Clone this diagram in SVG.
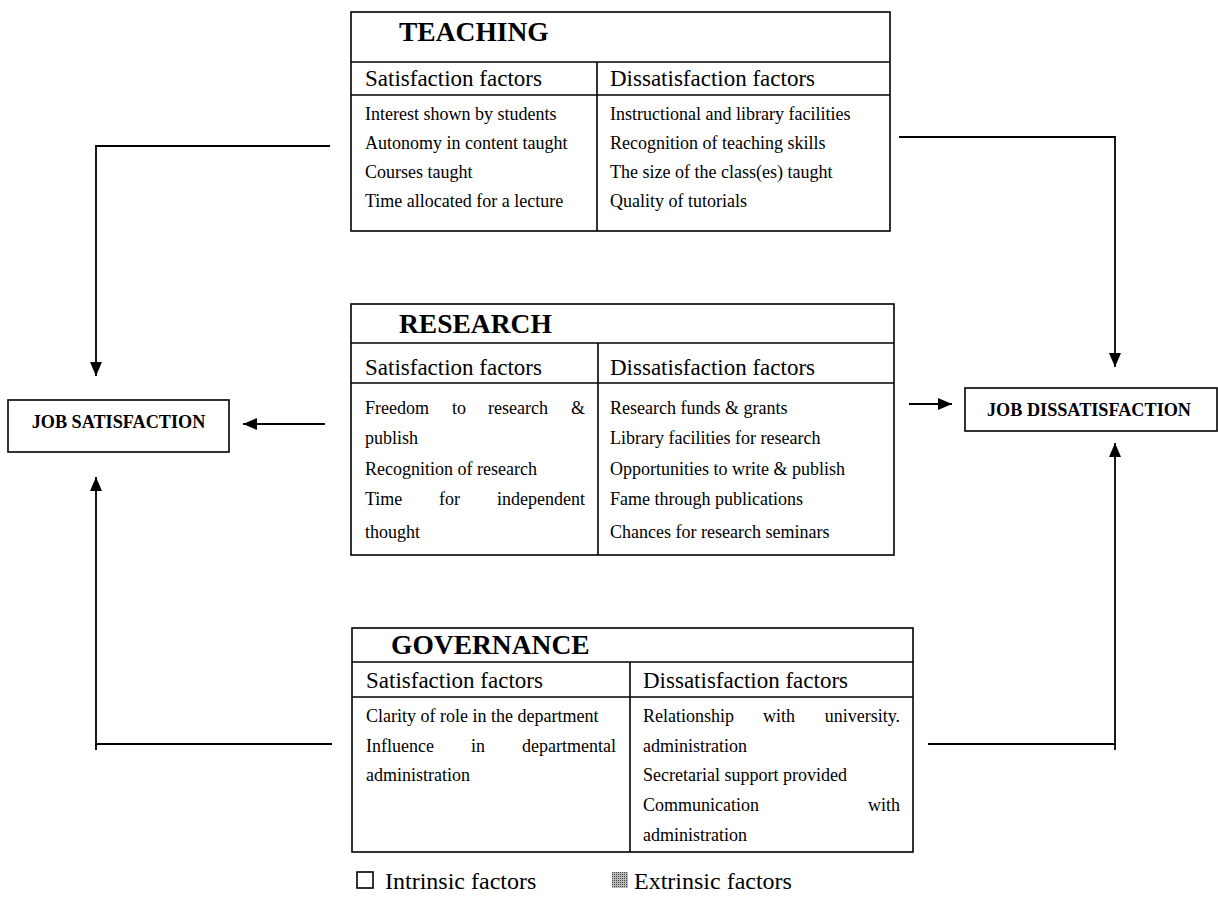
<svg xmlns="http://www.w3.org/2000/svg" width="1218" height="915" viewBox="0 0 1218 915">
<defs>
<style>
.box{fill:#fff;stroke:#000;stroke-width:1.6}
.ln{stroke:#000;stroke-width:1.6;fill:none}
.title{font-family:"Liberation Serif","Times New Roman",serif;font-weight:bold;font-size:27.5px;fill:#000}
.hdr{font-family:"Liberation Serif","Times New Roman",serif;font-size:23px;fill:#000}
.row{font-family:"Liberation Serif","Times New Roman",serif;font-size:18px;fill:#000}
.end{text-anchor:end}
.job{font-family:"Liberation Serif","Times New Roman",serif;font-weight:bold;font-size:18.2px;fill:#000}
.leg{font-family:"Liberation Serif","Times New Roman",serif;font-size:24px;fill:#000}
.con{stroke:#000;stroke-width:1.8;fill:none}
</style>
<marker id="ah" markerWidth="14" markerHeight="12" viewBox="0 0 14 12" refX="14" refY="6" orient="auto" markerUnits="userSpaceOnUse">
<path d="M0,0 L14,6 L0,12 Z" fill="#000"/>
</marker>
<pattern id="hatch" width="2" height="2" patternUnits="userSpaceOnUse">
<rect width="2" height="2" fill="#bbb"/>
<rect width="1" height="1" fill="#444"/>
</pattern>
</defs>
<rect width="1218" height="915" fill="#fff"/>

<g id="teaching">
<rect class="box" x="351" y="12" width="539" height="219"/>
<line class="ln" x1="351" y1="62" x2="890" y2="62"/>
<line class="ln" x1="351" y1="95" x2="890" y2="95"/>
<line class="ln" x1="597" y1="62" x2="597" y2="231"/>
<text class="title" x="399" y="41">TEACHING</text>
<text class="hdr" x="365" y="86">Satisfaction factors</text>
<text class="hdr" x="610" y="86">Dissatisfaction factors</text>
<text class="row" x="365" y="120">Interest shown by students</text>
<text class="row" x="365" y="149">Autonomy in content taught</text>
<text class="row" x="365" y="178">Courses taught</text>
<text class="row" x="365" y="207">Time allocated for a lecture</text>
<text class="row" x="610" y="120">Instructional and library facilities</text>
<text class="row" x="610" y="149">Recognition of teaching skills</text>
<text class="row" x="610" y="178">The size of the class(es) taught</text>
<text class="row" x="610" y="207">Quality of tutorials</text>
</g>

<g id="research">
<rect class="box" x="351" y="304" width="543" height="251"/>
<line class="ln" x1="351" y1="343" x2="894" y2="343"/>
<line class="ln" x1="351" y1="383" x2="894" y2="383"/>
<line class="ln" x1="598" y1="343" x2="598" y2="555"/>
<text class="title" x="399" y="333">RESEARCH</text>
<text class="hdr" x="365" y="375">Satisfaction factors</text>
<text class="hdr" x="610" y="375">Dissatisfaction factors</text>
<text class="row" x="365" y="414">Freedom</text>
<text class="row" x="452" y="414">to</text>
<text class="row" x="488" y="414">research</text>
<text class="row end" x="585" y="414">&amp;</text>
<text class="row" x="365" y="444">publish</text>
<text class="row" x="365" y="475">Recognition of research</text>
<text class="row" x="365" y="505">Time</text>
<text class="row" x="439" y="505">for</text>
<text class="row end" x="585" y="505">independent</text>
<text class="row" x="365" y="538">thought</text>
<text class="row" x="610" y="414">Research funds &amp; grants</text>
<text class="row" x="610" y="444">Library facilities for research</text>
<text class="row" x="610" y="475">Opportunities to write &amp; publish</text>
<text class="row" x="610" y="505">Fame through publications</text>
<text class="row" x="610" y="538">Chances for research seminars</text>
</g>

<g id="governance">
<rect class="box" x="352" y="628" width="561" height="224"/>
<line class="ln" x1="352" y1="662" x2="913" y2="662"/>
<line class="ln" x1="352" y1="697" x2="913" y2="697"/>
<line class="ln" x1="630" y1="662" x2="630" y2="852"/>
<text class="title" x="391" y="654">GOVERNANCE</text>
<text class="hdr" x="366" y="688">Satisfaction factors</text>
<text class="hdr" x="643" y="688">Dissatisfaction factors</text>
<text class="row" x="366" y="722">Clarity of role in the department</text>
<text class="row" x="366" y="752">Influence</text>
<text class="row" x="471" y="752">in</text>
<text class="row end" x="616" y="752">departmental</text>
<text class="row" x="366" y="781">administration</text>
<text class="row" x="643" y="722">Relationship</text>
<text class="row" x="763" y="722">with</text>
<text class="row end" x="900" y="722">university.</text>
<text class="row" x="643" y="752">administration</text>
<text class="row" x="643" y="781">Secretarial support provided</text>
<text class="row" x="643" y="811">Communication</text>
<text class="row end" x="900" y="811">with</text>
<text class="row" x="643" y="841">administration</text>
</g>

<g id="job-satisfaction">
<rect class="box" x="8" y="400" width="221" height="52"/>
<text class="job" x="118.5" y="428" text-anchor="middle">JOB SATISFACTION</text>
</g>

<g id="job-dissatisfaction">
<rect class="box" x="965" y="388" width="252" height="43"/>
<text class="job" x="1089" y="416" text-anchor="middle" font-size="18.5">JOB DISSATISFACTION</text>
</g>

<g id="connectors">
<polyline class="con" points="330,146 96,146 96,376" marker-end="url(#ah)"/>
<line class="con" x1="325" y1="424" x2="243" y2="424" marker-end="url(#ah)"/>
<polyline class="con" points="332,744 96,744 96,477" marker-end="url(#ah)"/>
<line class="con" x1="96" y1="744" x2="96" y2="750"/>
<polyline class="con" points="899,137 1115,137 1115,367" marker-end="url(#ah)"/>
<line class="con" x1="909" y1="404" x2="952" y2="404" marker-end="url(#ah)"/>
<polyline class="con" points="928,744 1115,744 1115,443" marker-end="url(#ah)"/>
<line class="con" x1="1115" y1="744" x2="1115" y2="750"/>
</g>

<g id="legend">
<rect x="357" y="872" width="16" height="16" fill="#fff" stroke="#000" stroke-width="1.6"/>
<text class="leg" x="385" y="889">Intrinsic factors</text>
<rect x="612" y="872" width="16" height="16" fill="url(#hatch)"/>
<text class="leg" x="634" y="889">Extrinsic factors</text>
</g>
</svg>
